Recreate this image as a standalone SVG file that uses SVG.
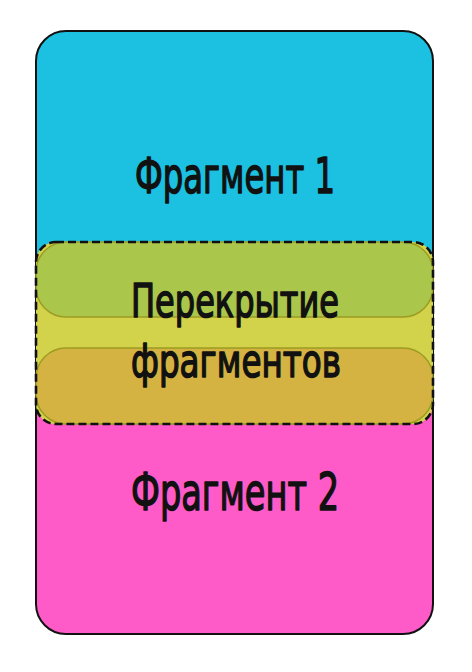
<svg xmlns="http://www.w3.org/2000/svg" width="472" height="672" viewBox="0 0 472 672">
<defs>
<clipPath id="card"><rect x="36" y="31" width="397" height="603" rx="30"/></clipPath>
</defs>
<style>
.lbl{font-family:"DejaVu Sans","Liberation Sans",sans-serif;fill:#111;stroke:#111;stroke-width:1.6;stroke-linejoin:round;text-anchor:middle}
.pill{stroke:#9c9c22;stroke-width:1.5}
</style>
<rect width="472" height="672" fill="#fff"/>
<g id="fragment1">
<rect x="36" y="31" width="397" height="300" fill="#1cc0e0" clip-path="url(#card)"/>
<text class="lbl" x="235" y="193" font-size="50" textLength="200" lengthAdjust="spacingAndGlyphs">Фрагмент 1</text>
</g>
<g id="fragment2">
<rect x="36" y="331" width="397" height="303" fill="#fe5bc8" clip-path="url(#card)"/>
<text class="lbl" x="235" y="510" font-size="52" textLength="208" lengthAdjust="spacingAndGlyphs">Фрагмент 2</text>
</g>
<rect x="36" y="31" width="397" height="603" rx="30" fill="none" stroke="#111" stroke-width="2"/>
<g id="overlap">
<rect x="36" y="242" width="397" height="182" rx="20" fill="#d3d24b"/>
<rect class="pill" x="36" y="242" width="397" height="75" rx="30" fill="#aac64b"/>
<rect class="pill" x="36" y="348" width="397" height="76" rx="30" fill="#d4b342"/>
<rect x="36" y="242" width="397" height="182" rx="20" fill="none" stroke="#111" stroke-width="2.6" stroke-dasharray="8,4"/>
<text class="lbl" x="235" y="317" font-size="47" textLength="208" lengthAdjust="spacingAndGlyphs">Перекрытие</text>
<text class="lbl" x="236" y="377" font-size="47" textLength="210" lengthAdjust="spacingAndGlyphs">фрагментов</text>
</g>
</svg>
